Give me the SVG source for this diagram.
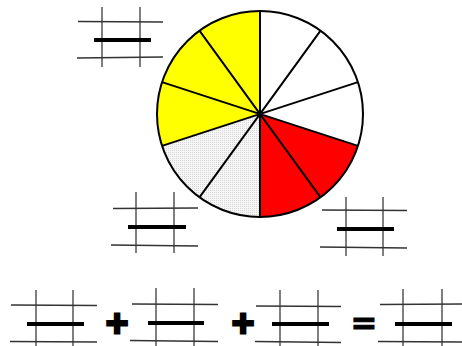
<svg xmlns="http://www.w3.org/2000/svg" width="462" height="346" viewBox="0 0 462 346">
<style>
.g{stroke:#333;stroke-width:1.3;fill:none}
.gv{stroke:#555;stroke-width:1.5;fill:none}
.bar{stroke:#000;stroke-width:4;fill:none}
.rad{stroke:#000;stroke-width:2;fill:none}
.op{font-family:"DejaVu Sans",sans-serif;font-weight:bold;fill:#000;stroke:#000;stroke-linejoin:miter;text-anchor:middle}
.plus{font-size:30px;stroke-width:3px}
.eq{font-size:32px;stroke-width:1px}
</style>
<defs>
<pattern id="dots" width="2" height="2" patternUnits="userSpaceOnUse">
<rect width="2" height="2" fill="#f6f6f6"/>
<rect width="1" height="1" fill="#d6d6d6"/>
</pattern>
</defs>
<rect width="462" height="346" fill="#fff"/>
<g id="pie">
<circle cx="260" cy="114" r="103" fill="#fff"/>
<path d="M260,114 L357.96,145.83 A103,103 0 0 1 260,217 Z" fill="#ff0000"/>
<path d="M260,114 L260,217 A103,103 0 0 1 162.04,145.83 Z" fill="url(#dots)"/>
<path d="M260,114 L162.04,145.83 A103,103 0 0 1 260,11 Z" fill="#ffff00"/>
<path class="rad" d="M260,11 L260,217 M320.54,30.67 L199.46,197.33 M357.96,82.17 L162.04,145.83 M357.96,145.83 L162.04,82.17 M320.54,197.33 L199.46,30.67"/>
<circle cx="260" cy="114" r="103" fill="none" stroke="#000" stroke-width="2"/>
</g>
<g id="frac-top">
<path class="gv" d="M102,7 V67 M140,7 V67"/>
<path class="g" d="M78,21.5 L163,22 M77,58 L163,57"/>
<path class="bar" d="M94,40 H151"/>
</g>
<g id="frac-left">
<path class="gv" d="M136,192 V253 M174,192 V253"/>
<path class="g" d="M113,208.5 L198,208 M111,245 L198,246"/>
<path class="bar" d="M128,227 H186"/>
</g>
<g id="frac-right">
<path class="gv" d="M346,197 V256 M383,197 V256"/>
<path class="g" d="M322,210 L407,210.5 M320,247 L407,248"/>
<path class="bar" d="M337,229 H394"/>
</g>
<g id="frac-1">
<path class="gv" d="M36,290 V346 M73,290 V346"/>
<path class="g" d="M11,305 L97,305.5 M10,341.5 L97,342"/>
<path class="bar" d="M27,324 H84"/>
</g>
<g id="frac-2">
<path class="gv" d="M156,288 V346 M194,288 V346"/>
<path class="g" d="M132,304 L218,304.5 M130,340.5 L218,341.5"/>
<path class="bar" d="M148,323 H204"/>
</g>
<g id="frac-3">
<path class="gv" d="M280,290 V346 M318,290 V346"/>
<path class="g" d="M256,306 L341,306.5 M255,341.5 L341,342.5"/>
<path class="bar" d="M272,324 H329"/>
</g>
<g id="frac-4">
<path class="gv" d="M403,289 V346 M442,289 V346"/>
<path class="g" d="M380,304.5 L462,304 M378,341.5 L462,342"/>
<path class="bar" d="M395,324 H452"/>
</g>
<g id="operators">
<text class="op plus" x="117" y="333">+</text>
<text class="op plus" x="243" y="333">+</text>
<text class="op eq" x="364" y="334">=</text>
</g>
</svg>
